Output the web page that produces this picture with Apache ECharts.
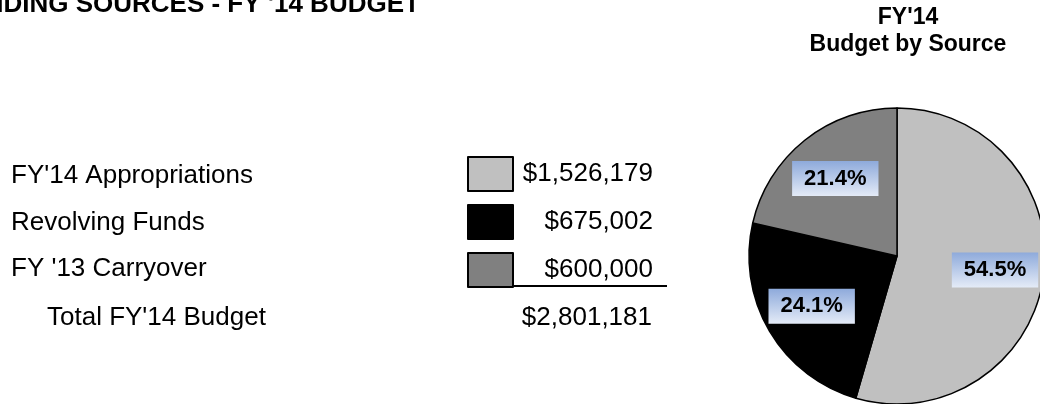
<!DOCTYPE html>
<html>
<head>
<meta charset="utf-8">
<script src="https://cdn.jsdelivr.net/npm/echarts@6/dist/echarts.min.js"></script>
<style>
html,body{margin:0;padding:0;background:#fff;}
#main{width:1040px;height:404px;}
</style>
</head>
<body>
<div id="main"></div>
<script>
// budget sources, FY'14
var sources = ["FY'14 Appropriations", "Revolving Funds", "FY '13 Carryover"];
var amounts = [1526179, 675002, 600000];
var colors = ['#c0c0c0', '#000000', '#808080'];
var totalLabel = "Total FY'14 Budget";

var FONT = 'Liberation Sans, Arial, sans-serif';

function money(v){
    return '$' + v.toString().replace(/\B(?=(\d{3})+(?!\d))/g, ',');
}

var total = 0;
for(var i=0;i<amounts.length;i++) total += amounts[i];

var pieData = [];
for(var i=0;i<sources.length;i++){
    pieData.push({
        name: sources[i],
        value: amounts[i],
        itemStyle: {color: colors[i]}
    });
}

var rowY = [176, 223, 269];
var graphics = [];
for(var i=0;i<sources.length;i++){
    graphics.push({
        type:'text',
        style:{text:sources[i], x:11, y:rowY[i], font:'26px ' + FONT, fill:'#000', verticalAlign:'middle'}
    });
}
graphics.push({type:'text', style:{text:totalLabel, x:47, y:318, font:'26px ' + FONT, fill:'#000', verticalAlign:'middle'}});
graphics.push({type:'text', style:{text:money(total), x:652, y:318, font:'26px ' + FONT, fill:'#000', align:'right', verticalAlign:'middle'}});
graphics.push({type:'line', shape:{x1:467, y1:286, x2:667, y2:286}, style:{stroke:'#000', lineWidth:2}});
graphics.push({type:'text', style:{text:"FUNDING SOURCES - FY '14 BUDGET", x:-50, y:5, font:'bold 26px ' + FONT, fill:'#000', verticalAlign:'middle'}});

var labelBg = new echarts.graphic.LinearGradient(0, 0, 0, 1, [
    {offset:0, color:'#8eaadb'},
    {offset:1, color:'#e4ebf7'}
]);

var dom = document.getElementById('main');
var myChart = echarts.init(dom, null, {renderer:'canvas'});

var option = {
    backgroundColor:'#fff',
    animation:false,
    title:{
        text:"FY'14\nBudget by Source",
        left:908, top:4, textAlign:'center',
        padding:0,
        textStyle:{fontFamily:FONT, fontWeight:'bold', fontSize:23, lineHeight:27, color:'#000'}
    },
    legend:{
        orient:'vertical',
        left:467, top:156,
        padding:0,
        itemWidth:45, itemHeight:34, itemGap:12,
        icon:'rect',
        selectedMode:false,
        data:sources,
        formatter:function(name){
            return '{v|' + money(amounts[sources.indexOf(name)]) + '}';
        },
        textStyle:{
            rich:{v:{width:135, align:'right', fontSize:26, lineHeight:28, fontFamily:FONT, color:'#000'}}
        },
        itemStyle:{borderColor:'#000', borderWidth:2}
    },
    graphic:graphics,
    series:[
        {
            type:'pie',
            center:[897, 256],
            radius:[0, 148],
            startAngle:90,
            clockwise:true,
            silent:true,
            data:pieData,
            label:{show:false},
            labelLine:{show:false},
            itemStyle:{borderColor:'#000', borderWidth:1.5},
            emphasis:{disabled:true}
        },
        {
            // label carrier only, wider radius so labels sit further out
            type:'pie',
            center:[897, 256],
            radius:[0, 192],
            startAngle:90,
            clockwise:true,
            silent:true,
            data:pieData.map(function(d){ return {name:d.name, value:d.value}; }),
            itemStyle:{color:'rgba(0,0,0,0)', borderWidth:0},
            labelLine:{show:false},
            emphasis:{disabled:true},
            label:{
                show:true,
                position:'inside',
                formatter:function(p){ return p.percent.toFixed(1) + '%'; },
                fontFamily:FONT,
                fontWeight:'bold',
                fontSize:22,
                color:'#000',
                backgroundColor:labelBg,
                padding:[7, 12, 6, 12]
            }
        }
    ]
};
myChart.setOption(option);
</script>
</body>
</html>
